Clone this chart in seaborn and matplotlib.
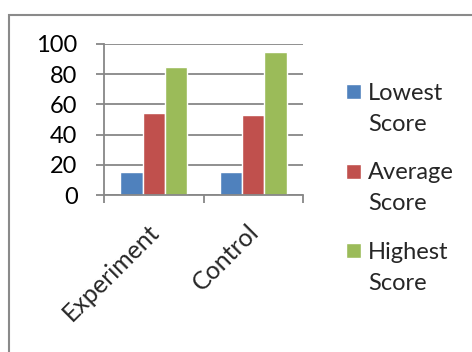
import matplotlib
matplotlib.use("Agg")
import matplotlib.pyplot as plt
import matplotlib.transforms as mtransforms
from matplotlib.patches import Rectangle
from matplotlib.legend_handler import HandlerPatch
import seaborn as sns
import pandas as pd

groups = ["Experiment", "Control"]
measures = ["Lowest Score", "Average Score", "Highest Score"]
lowest = [15, 15]
average = [54, 53]
highest = [85, 95]
colors = ["#4F81BD", "#C0504D", "#9BBB59"]
yticks = [0, 20, 40, 60, 80, 100]

rows = []
for m, vals in zip(measures, [lowest, average, highest]):
    for g, v in zip(groups, vals):
        rows.append({"group": g, "measure": m, "score": v})
df = pd.DataFrame(rows)

sns.set_theme(style="white")
plt.rcParams["font.family"] = ["Lato", "DejaVu Sans"]

FS = 17
W, H, DPI = 472, 352, 100
fig = plt.figure(figsize=(W / DPI, H / DPI), dpi=DPI)
ax = fig.add_axes([104 / W, 1 - 195 / H, (303 - 104) / W, (195 - 44) / H])

sns.barplot(data=df, x="group", y="score", hue="measure", palette=colors,
            width=0.67, gap=0, saturation=1, ax=ax, legend=True)

grid_c = "#878787"
ax.set_ylim(0, 100)
ax.set_xlim(-0.5, 1.5)
ax.set_yticks(yticks)
ax.set_yticklabels([str(t) for t in yticks], fontsize=FS, color="black")
ax.yaxis.grid(True, color=grid_c, linewidth=1.3)
ax.set_axisbelow(True)
ax.tick_params(axis="y", direction="out", length=6, width=1.3, color=grid_c,
               pad=13, left=True)

# category boundaries carry the tick marks, the labels sit between them
ax.set_xticks([-0.5, 0.5, 1.5])
ax.set_xticklabels(["", "", ""])
ax.tick_params(axis="x", which="major", direction="out", length=6, width=1.3,
               color=grid_c, bottom=True)
ax.set_xticks([0, 1], minor=True)
ax.set_xticklabels(groups, minor=True, fontsize=18, rotation=45,
                   ha="right", va="center", rotation_mode="anchor")
ax.tick_params(axis="x", which="minor", length=0, pad=24)
shift = mtransforms.ScaledTranslation(1 / 72, 0, fig.dpi_scale_trans)
for lab in ax.get_xticklabels(minor=True):
    lab.set_transform(lab.get_transform() + shift)

ax.set_xlabel("")
ax.set_ylabel("")
for s in ["top", "right"]:
    ax.spines[s].set_visible(False)
for s in ["left", "bottom"]:
    ax.spines[s].set_color(grid_c)
    ax.spines[s].set_linewidth(1.3)


class FirstLineSquare(HandlerPatch):
    """Square legend key level with the first line of a two-line label."""

    def __init__(self, size, lift, **kw):
        super().__init__(**kw)
        self.size = size
        self.lift = lift

    def create_artists(self, legend, orig_handle, xdescent, ydescent,
                       width, height, fontsize, trans):
        s = self.size
        y = -ydescent + height / 2 + self.lift - s / 2
        p = Rectangle((-xdescent, y), s, s)
        self.update_prop(p, orig_handle, legend)
        p.set_transform(trans)
        return [p]


handles, labels = ax.get_legend_handles_labels()
sq = 15 * 72 / DPI
hmap = {h: FirstLineSquare(sq, 12.5) for h in handles}
ax.legend(handles, [l.replace(" ", "\n") for l in labels],
          handler_map=hmap,
          loc="upper left", bbox_to_anchor=(346 / W, 1 - 83 / H),
          bbox_transform=fig.transFigure, frameon=False, fontsize=FS,
          handlelength=sq / FS, handleheight=0.7, handletextpad=7 * 0.72 / FS,
          labelspacing=1.17, borderpad=0, borderaxespad=0)
for t in ax.get_legend().get_texts():
    t.set_linespacing(1.58)

# outer chart frame
fig.add_artist(Rectangle((9 / W, -0.1), 1.2, 1 - 15 / H + 0.1,
                         transform=fig.transFigure, fill=False,
                         edgecolor="#8A8A8A", linewidth=1.5))

fig.savefig("out.png", dpi=DPI)
